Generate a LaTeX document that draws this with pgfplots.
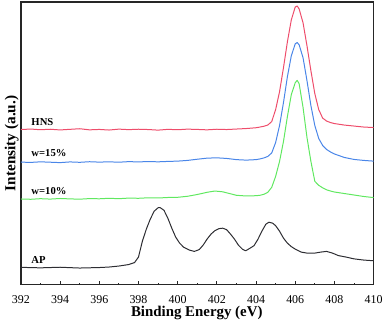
\documentclass[border=0pt]{standalone}
\usepackage{fontspec}
\setmainfont{Liberation Serif}
\usepackage{pgfplots}
\pgfplotsset{compat=1.18}
\definecolor{hnsred}{RGB}{238,77,107}
\definecolor{wblue}{RGB}{74,134,232}
\definecolor{wgreen}{RGB}{96,232,96}
\definecolor{apblack}{RGB}{45,45,50}

\begin{document}
\begin{tikzpicture}
\begin{axis}[
  scale only axis, width=265.5pt, height=212.8pt,
  xmin=392, xmax=410, ymin=4.3, ymax=288,
  xtick={392,394,...,410}, minor x tick num=1,
  ytick=\empty,
  tick align=inside, xtick pos=bottom,
  major tick length=3pt, minor tick length=1.6pt,
  axis line style={line width=0.9pt, black!85},
  every tick/.style={black!85, line width=0.7pt},
  tick label style={font=\fontsize{9}{10}\selectfont},
  /pgf/number format/assume math mode=true,
  /pgf/number format/1000 sep={},
  xticklabel style={yshift=-5pt},
  xlabel={Binding Energy (eV)},
  xlabel style={font=\fontsize{11.2}{13}\selectfont\bfseries, at={(axis description cs:0.4986,-0.0998)}, anchor=center},
  ylabel={Intensity (a.u.)},
  ylabel style={font=\fontsize{11.5}{13}\selectfont\bfseries, at={(axis description cs:-0.0263,0.5)}, anchor=center},
  clip=false,
  every axis plot/.style={line width=0.75pt, line join=round},
]
% HNS
\addplot[hnsred] coordinates {
(392,160) (392.5,160.5) (393,159.8) (393.5,160.3) (394,159.6) (394.5,160.2)
(395,160.8) (395.5,159.7) (396,160.1) (396.5,159.5) (397,160.4) (397.5,159.9)
(398,160.3) (398.5,160.0) (399,159.4) (399.5,160.2) (400,159.8) (400.5,160.4)
(401,160.1) (401.5,159.7) (402,160.3) (402.5,160.0) (403,160.5) (403.5,161.0)
(404,161.8) (404.2,162.5) (404.4,163.3) (404.6,164.5) (404.8,168) (405.0,180)
(405.2,198) (405.4,222) (405.6,248) (405.8,270) (406.0,283) (406.1,284)
(406.2,281) (406.4,267) (406.6,244) (406.8,219) (407.0,196) (407.2,180)
(407.4,171.5) (407.6,168.5) (407.8,167) (408.0,166) (408.5,164.5) (409.0,163.5)
(409.5,162.5) (410,162)
};
% w=15%
\addplot[wblue] coordinates {
(392,127.3) (392.5,127.0) (393,127.6) (393.5,127.2) (394,126.8) (394.5,127.5)
(395,127.1) (395.5,127.7) (396,127.3) (396.5,127.6) (397,127.2) (397.5,127.8)
(398,127.5) (398.5,127.9) (399,127.6) (399.5,128.0) (400,128.3) (400.5,129.0)
(401,130.2) (401.5,131.3) (402,131.6) (402.5,131.0) (403,129.8) (403.5,129.3)
(404,129.8) (404.2,130.5) (404.4,131.5) (404.6,133) (404.8,136.5) (405.0,147)
(405.2,164) (405.4,187) (405.6,213) (405.8,234) (406.0,246) (406.1,247.3)
(406.2,245) (406.4,232) (406.6,209) (406.8,184) (407.0,164) (407.2,151)
(407.4,144) (407.6,140) (407.8,137.5) (408.0,135.5) (408.5,132) (409.0,130)
(409.5,129) (410,128.3)
};
% w=10%
\addplot[wgreen] coordinates {
(392,90.3) (392.5,90.0) (393,90.6) (393.5,90.2) (394,90.8) (394.5,90.4)
(395,90.1) (395.5,90.7) (396,90.5) (396.5,91.0) (397,90.6) (397.5,91.2)
(398,91.0) (398.5,91.5) (399,91.3) (399.5,91.8) (400,92.0) (400.5,93.0)
(401,94.8) (401.5,97.0) (401.9,98.3) (402.3,97.5) (402.7,95.5) (403.0,94.0)
(403.5,93.3) (404,93.6) (404.2,94) (404.4,95) (404.6,97) (404.8,102)
(405.0,113) (405.2,128) (405.4,148) (405.6,173) (405.8,195) (406.0,207)
(406.1,209.3) (406.2,206) (406.4,182) (406.6,152) (406.8,128) (407.0,108)
(407.2,104) (407.4,101.5) (407.6,99.5) (407.8,98.3) (408.0,97.3) (408.5,95.8)
(409.0,94.3) (409.5,92.8) (410,91.7)
};
% AP
\addplot[apblack] coordinates {
(392,21.7) (393,21.2) (394,21.8) (395,21) (396,21.5) (396.5,22) (397,23)
(397.5,24.5) (397.8,26.5) (398.0,32) (398.2,48) (398.4,60) (398.6,70)
(398.8,78) (399.0,81.5) (399.1,81.7) (399.3,79) (399.5,71) (399.7,61)
(399.9,52) (400.1,46) (400.3,42) (400.6,39) (400.85,37.7) (401.1,39.5)
(401.3,44) (401.5,50) (401.7,55) (401.9,58.5) (402.1,60.5) (402.3,61)
(402.5,59.5) (402.7,55) (402.9,50) (403.1,44) (403.3,40) (403.47,38.3)
(403.7,41) (403.9,43.5) (404.1,50) (404.3,58) (404.5,65) (404.66,67)
(404.85,66) (405.0,63.5) (405.2,58) (405.4,51) (405.6,46) (405.8,42.5)
(406.0,40) (406.3,37) (406.6,36) (407.0,36) (407.3,37) (407.6,37.7)
(407.9,36) (408.2,33.5) (408.6,32) (409.0,30.2) (409.5,29) (410,28.3)
};
\node[anchor=west, font=\fontsize{8}{9}\selectfont\bfseries] at (axis cs:392.3,167.3) {HNS};
\node[anchor=west, font=\fontsize{8}{9}\selectfont\bfseries] at (axis cs:392.3,136) {w=15\%};
\node[anchor=west, font=\fontsize{8}{9}\selectfont\bfseries] at (axis cs:392.3,98.3) {w=10\%};
\node[anchor=west, font=\fontsize{8}{9}\selectfont\bfseries] at (axis cs:392.3,29) {AP};
\path (rel axis cs:-0.0593,-0.135) rectangle (rel axis cs:1.0339,1.00705);
\end{axis}
\end{tikzpicture}
\end{document}
